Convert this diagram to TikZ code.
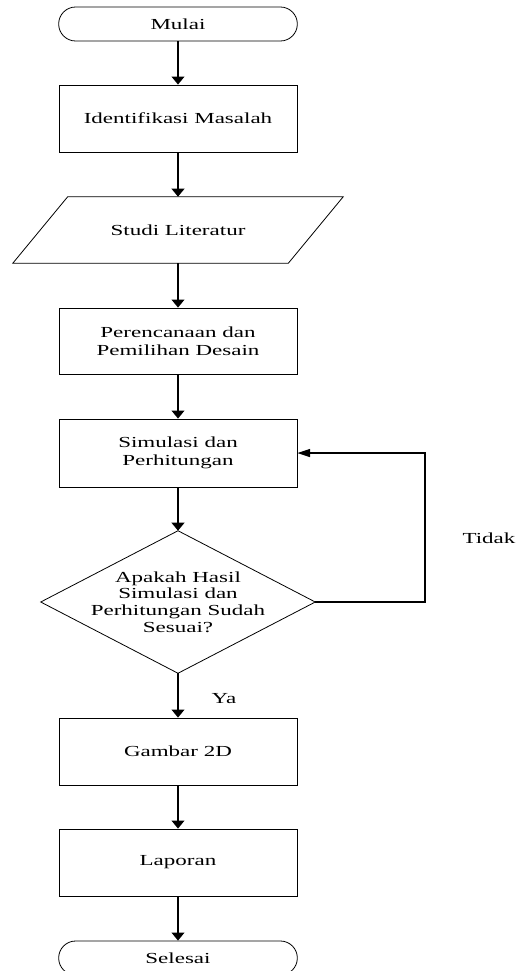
\documentclass[tikz,border=0pt]{standalone}
\usepackage{fontspec}
\setmainfont{Liberation Serif}[FakeStretch=1.5]
\usetikzlibrary{arrows.meta}

\begin{document}
\begin{tikzpicture}[x=0.75pt,y=-0.75pt]
\tikzset{every node/.style={font=\fontsize{11.5}{13.5}\selectfont, align=center, inner sep=0pt},
	prosesbox/.style={draw, line width=0.6pt, minimum width=178.5pt, minimum height=50.25pt},
	terminalbox/.style={draw, line width=0.6pt, rounded corners=12.7pt, minimum width=179pt, minimum height=25.5pt},
	alur/.style={line width=1.2pt, -{Triangle[length=6pt,width=9.5pt]}},
	alurbalik/.style={line width=1pt, -{Triangle[length=9.5pt,width=6pt]}}}
\useasboundingbox (0,0) rectangle (520,971);

\node[terminalbox] (mulai) at (178,24) {Mulai};
\node[prosesbox] (identifikasi) at (178,118.5) {Identifikasi Masalah};
\node[minimum width=206.25pt, minimum height=49.5pt] (studi) at (178,230) {Studi Literatur};
\draw[line width=0.6pt] ([xshift=20.6pt]studi.north west) -- ([xshift=20.6pt]studi.north east)
	-- ([xshift=-20.6pt]studi.south east) -- ([xshift=-20.6pt]studi.south west) -- cycle;
\node[prosesbox, minimum height=49.5pt] (perencanaan) at (178,341) {Perencanaan dan\\Pemilihan Desain};
\node[prosesbox, minimum height=51pt] (simulasi) at (178,453) {Simulasi dan\\Perhitungan};
\node[minimum width=205.5pt, minimum height=106.5pt, font=\fontsize{11.5}{12.6}\selectfont] (cek) at (178,602)
	{Apakah Hasil\\Simulasi dan\\Perhitungan Sudah\\Sesuai?};
\draw[line width=0.6pt] (cek.north) -- (cek.east) -- (cek.south) -- (cek.west) -- cycle;
\node[prosesbox] (gambar) at (178,751.5) {Gambar 2D};
\node[prosesbox] (laporan) at (178,862.5) {Laporan};
\node[terminalbox] (selesai) at (178,958) {Selesai};

\coordinate (balik) at (425,602);
\node (tidak) at (489,538) {Tidak};
\node (ya) at (224,699) {Ya};

\draw[alur] (mulai) -- (identifikasi);
\draw[alur] (identifikasi) -- (studi);
\draw[alur] (studi) -- (perencanaan);
\draw[alur] (perencanaan) -- (simulasi);
\draw[alur] (simulasi) -- (cek.north);
\draw[alur] (cek.south) -- (gambar);
\draw[alur] (gambar) -- (laporan);
\draw[alur] (laporan) -- (selesai);
\draw[alurbalik] (cek.east) -- (balik) |- (simulasi.east);

\end{tikzpicture}
\end{document}
